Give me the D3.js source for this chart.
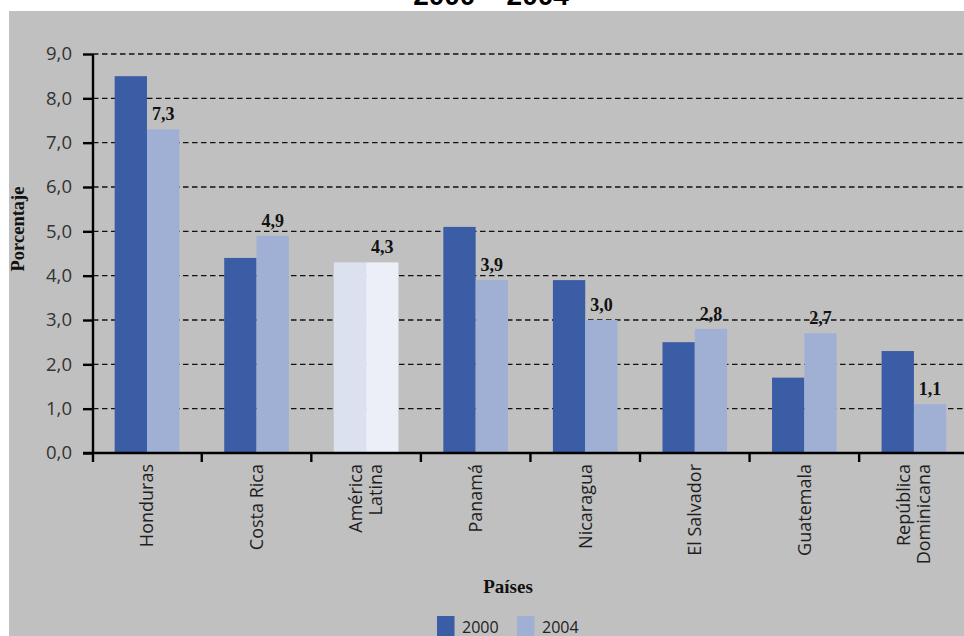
<!DOCTYPE html>
<html>
<head>
<meta charset="utf-8">
<script src="https://cdn.jsdelivr.net/npm/d3@7"></script>
<style>
  html, body { margin: 0; padding: 0; background: #ffffff; }
  svg { display: block; }
</style>
</head>
<body>
<svg id="chart" width="964" height="636"></svg>
<script>
// Categories (line breaks split long names into two lines)
const categories = ["Honduras", "Costa Rica", "América\nLatina", "Panamá", "Nicaragua",
                    "El Salvador", "Guatemala", "República\nDominicana"];
const seriesNames = ["2000", "2004"];
const values2000 = [8.5, 4.4, 4.3, 5.1, 3.9, 2.5, 1.7, 2.3];
const values2004 = [7.3, 4.9, 4.3, 3.9, 3.0, 2.8, 2.7, 1.1];
const yTicks = [0, 1, 2, 3, 4, 5, 6, 7, 8, 9];
const highlightCategory = "América\nLatina";

const colors = { "2000": "#3b5da6", "2004": "#9fb0d4" };
const highlightColors = { "2000": "#dbe1ee", "2004": "#eceff8" };

const svg = d3.select("#chart");
const W = 964, H = 636;
const plot = { left: 93, top: 54, bottom: 453, right: 968.7 };

// background panel
svg.append("rect").attr("x", 9).attr("y", 11).attr("width", W - 9).attr("height", H - 11)
  .attr("fill", "#c0c0c0");

// title (partially above the frame)
svg.append("text").attr("x", 491).attr("y", 5).attr("text-anchor", "middle")
  .attr("font-family", "Liberation Sans, Arial, sans-serif").attr("font-weight", "bold")
  .attr("font-size", 28).attr("fill", "#000").text("2000 – 2004");

const y = d3.scaleLinear().domain([0, 9]).range([plot.bottom, plot.top]);
const x = d3.scaleBand().domain(categories).range([92.2, plot.right]).padding(0);
const xs = d3.scaleBand().domain(seriesNames).range([0, x.bandwidth()])
  .paddingInner(0).paddingOuter(0.695);

const fmt = v => v.toFixed(1).replace(".", ",");

// dashed gridlines
svg.append("g").selectAll("line").data(yTicks.filter(d => d > 0)).join("line")
  .attr("x1", plot.left).attr("x2", W)
  .attr("y1", d => y(d)).attr("y2", d => y(d))
  .attr("stroke", "#111").attr("stroke-width", 1.4).attr("stroke-dasharray", "5.5,3.5");

// bars
const rows = categories.map((c, i) => ({ cat: c, vals: [
  { s: "2000", v: values2000[i] }, { s: "2004", v: values2004[i] }] }));

const groups = svg.append("g").selectAll("g").data(rows).join("g")
  .attr("transform", d => `translate(${x(d.cat)},0)`);

groups.selectAll("rect").data(d => d.vals.map(o => ({ ...o, cat: d.cat }))).join("rect")
  .attr("x", d => xs(d.s)).attr("width", xs.bandwidth())
  .attr("y", d => y(d.v)).attr("height", d => y(0) - y(d.v))
  .attr("fill", d => d.cat === highlightCategory ? highlightColors[d.s] : colors[d.s]);

// value labels over the 2004 bars
groups.append("text")
  .attr("x", xs("2004") + xs.bandwidth() / 2)
  .attr("y", (d, i) => y(values2004[i]) - 9)
  .attr("text-anchor", "middle")
  .attr("font-family", "Liberation Serif, Times New Roman, serif").attr("font-weight", "bold")
  .attr("font-size", 18).attr("fill", "#111")
  .text((d, i) => fmt(values2004[i]));

// y axis
const yAxis = d3.axisLeft(y).tickValues(yTicks).tickSize(10).tickPadding(11).tickFormat(fmt);
const gy = svg.append("g").attr("transform", `translate(${plot.left},0)`).call(yAxis);
gy.select(".domain").attr("stroke", "#000").attr("stroke-width", 2.4)
  .attr("d", `M0,${plot.top}V${plot.bottom}`);
gy.selectAll(".tick line").attr("stroke", "#000").attr("stroke-width", 2.4);
gy.selectAll(".tick text").attr("font-family", "Open Sans, sans-serif")
  .attr("font-size", 18.5).attr("fill", "#333");

// x axis baseline and category boundary ticks
svg.append("line").attr("x1", plot.left - 10).attr("x2", W)
  .attr("y1", plot.bottom).attr("y2", plot.bottom)
  .attr("stroke", "#000").attr("stroke-width", 2.6);
svg.append("g").selectAll("line").data(categories).join("line")
  .attr("x1", d => Math.max(x(d), plot.left)).attr("x2", d => Math.max(x(d), plot.left))
  .attr("y1", plot.bottom).attr("y2", plot.bottom + 9)
  .attr("stroke", "#000").attr("stroke-width", 2.4);

// rotated category labels
const xl = svg.append("g").selectAll("text").data(categories).join("text")
  .attr("transform", d => `translate(${x(d) + x.bandwidth() / 2},${plot.bottom + 11}) rotate(-90)`)
  .attr("text-anchor", "end")
  .attr("font-family", "Open Sans, sans-serif").attr("font-size", 18).attr("fill", "#1e1e1e");
xl.each(function (d) {
  const lines = d.split("\n");
  const t = d3.select(this);
  lines.forEach((ln, k) => {
    t.append("tspan").attr("x", 0)
      .attr("y", (k - (lines.length - 1) / 2) * 20)
      .attr("dy", "0.35em").text(ln);
  });
});

// axis titles
svg.append("text").attr("transform", "translate(24,229) rotate(-90)")
  .attr("text-anchor", "middle")
  .attr("font-family", "Liberation Serif, Times New Roman, serif").attr("font-weight", "bold")
  .attr("font-size", 18.5).attr("fill", "#111").text("Porcentaje");

svg.append("text").attr("x", 508).attr("y", 593).attr("text-anchor", "middle")
  .attr("font-family", "Liberation Serif, Times New Roman, serif").attr("font-weight", "bold")
  .attr("font-size", 19).attr("fill", "#111").text("Países");

// legend
const legendX = [437, 517];
const lg = svg.append("g").selectAll("g").data(seriesNames).join("g")
  .attr("transform", (d, i) => `translate(${legendX[i]},616)`);
lg.append("rect").attr("width", 17.5).attr("height", 20).attr("fill", d => colors[d]);
lg.append("text").attr("x", 25).attr("y", 17).attr("font-family", "Open Sans, sans-serif")
  .attr("font-size", 16).attr("fill", "#222").text(d => d);
</script>
</body>
</html>
